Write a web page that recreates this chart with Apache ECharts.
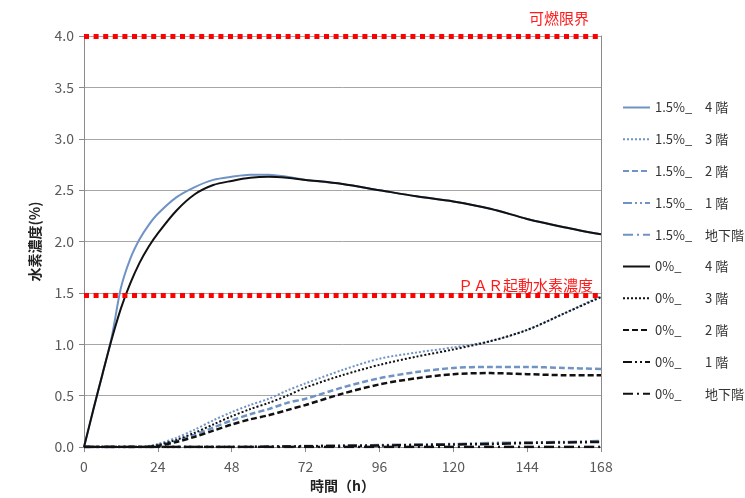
<!DOCTYPE html>
<html>
<head>
<meta charset="utf-8">
<script src="https://cdn.jsdelivr.net/npm/echarts@6/dist/echarts.min.js"></script>
<style>html,body{margin:0;padding:0;background:#fff;}#chart{width:745px;height:498px;}</style>
</head>
<body>
<div id="chart"></div>
<script>
// ---- data ----
const hours = [0,3,6,9,12,15,18,21,24,30,36,42,48,54,60,66,72,84,96,108,120,132,144,156,168];
const xTicks = [0,24,48,72,96,120,144,168];
const yTicks = [0,0.5,1,1.5,2,2.5,3,3.5,4];

const h15_4F = [0,0.36,0.71,1.07,1.55,1.83,2.02,2.16,2.27,2.43,2.53,2.60,2.63,2.65,2.65,2.63,2.60,2.56,2.50,2.44,2.39,2.32,2.22,2.14,2.07];
const h15_3F = [0,0,0,0,0,0,0,0.01,0.03,0.09,0.17,0.26,0.34,0.41,0.47,0.55,0.62,0.75,0.86,0.92,0.97,1.03,1.14,1.30,1.47];
const h15_2F = [0,0,0,0,0,0,0,0.005,0.02,0.06,0.12,0.19,0.26,0.32,0.37,0.43,0.47,0.58,0.67,0.73,0.77,0.78,0.78,0.77,0.76];
const h15_1F = [0,0,0,0,0,0,0,0,0,0,0,0,0,0.003,0.005,0.008,0.01,0.015,0.02,0.025,0.03,0.04,0.045,0.05,0.06];
const h15_B1 = [0,0,0,0,0,0,0,0,0,0,0,0,0,0,0,0,0,0,0,0,0,0,0,0,0];

const h0_4F = [0,0.36,0.71,1.05,1.35,1.59,1.79,1.95,2.08,2.30,2.46,2.55,2.59,2.62,2.63,2.62,2.60,2.56,2.50,2.44,2.39,2.32,2.22,2.14,2.07];
const h0_3F = [0,0,0,0,0,0,0,0.005,0.02,0.07,0.14,0.22,0.30,0.37,0.43,0.50,0.58,0.70,0.80,0.88,0.95,1.03,1.14,1.30,1.46];
const h0_2F = [0,0,0,0,0,0,0,0,0.01,0.05,0.10,0.16,0.22,0.27,0.31,0.36,0.41,0.52,0.61,0.67,0.71,0.72,0.71,0.70,0.70];
const h0_1F = [0,0,0,0,0,0,0,0,0,0,0,0,0,0.002,0.004,0.006,0.008,0.012,0.015,0.02,0.025,0.03,0.04,0.045,0.05];
const h0_B1 = [0,0,0,0,0,0,0,0,0,0,0,0,0,0,0,0,0,0,0,0,0,0,0,0,0];

const FLAMMABLE_LIMIT = 4.0;
const PAR_LEVEL = 1.48;
const flammableLabel = '可燃限界';
const parLabel = 'ＰＡＲ起動水素濃度';

const seriesNames = ['1.5%_4 階','1.5%_3 階','1.5%_2 階','1.5%_1 階','1.5%_地下階','0%_4 階','0%_3 階','0%_2 階','0%_1 階','0%_地下階'];
const seriesValues = [h15_4F,h15_3F,h15_2F,h15_1F,h15_B1,h0_4F,h0_3F,h0_2F,h0_1F,h0_B1];

// ---- styles ----
const BLUE = '#6f93c4';
const BLACK = '#111111';
const dashTypes = ['solid',[2,2],[6,3],[9,3,2,3,2,3],[10,4,2,4]];
const widths = [2,2,2.5,2.5,2.5];
const FONT = '"Noto Sans CJK JP", "Noto Sans", sans-serif';

const series = seriesNames.map((name, i) => {
  const isBlue = i < 5;
  const k = i % 5;
  return {
    name: name,
    type: 'line',
    data: hours.map((t, j) => [t, seriesValues[i][j]]),
    symbol: 'none',
    showSymbol: false,
    smooth: 0.3,
    lineStyle: { color: isBlue ? BLUE : BLACK, width: widths[k], type: dashTypes[k], cap: 'butt' },
    itemStyle: { color: isBlue ? BLUE : BLACK },
    z: isBlue ? 2 : 3
  };
});

series.push({
  name: 'limits',
  type: 'line',
  data: [],
  silent: true,
  z: 5,
  markLine: {
    symbol: 'none',
    silent: true,
    animation: false,
    lineStyle: { color: '#ff0000', width: 5, type: [5, 4.6], cap: 'butt' },
    data: [
      { yAxis: FLAMMABLE_LIMIT, label: { show: true, formatter: flammableLabel, position: 'insideEndTop', distance: [12, 10], color: '#ff1a1a', fontSize: 15, fontFamily: FONT } },
      { yAxis: PAR_LEVEL, label: { show: true, formatter: parLabel, position: 'insideEndTop', distance: [8, 2], color: '#ff1a1a', fontSize: 15, fontFamily: FONT } }
    ]
  }
});

const chart = echarts.init(document.getElementById('chart'), null, { renderer: 'canvas' });
chart.setOption({
  animation: false,
  backgroundColor: '#ffffff',
  textStyle: { fontFamily: FONT },
  grid: { left: 84, right: 144, top: 36, bottom: 43, containLabel: false },
  legend: {
    data: seriesNames,
    orient: 'vertical',
    left: 617,
    top: 96,
    itemWidth: 27,
    itemHeight: 14,
    itemGap: 18.8,
    itemStyle: { opacity: 0 },
    textStyle: {
      color: '#333333', fontSize: 13, fontFamily: FONT,
      rich: {
        a: { width: 50, fontSize: 13, color: '#333333', fontFamily: FONT },
        b: { fontSize: 13, color: '#333333', fontFamily: FONT }
      }
    },
    formatter: function (name) {
      const parts = name.split('_');
      return '{a|' + parts[0] + '_}{b|' + parts[1] + '}';
    }
  },
  xAxis: {
    type: 'value',
    min: xTicks[0],
    max: xTicks[xTicks.length - 1],
    interval: 24,
    name: '時間（h）',
    nameLocation: 'middle',
    nameGap: 27,
    nameTextStyle: { color: '#222', fontSize: 14, fontWeight: 'bold', fontFamily: FONT },
    axisLine: { show: true, lineStyle: { color: '#8a8a8a', width: 1 } },
    axisTick: { show: true, length: 5, lineStyle: { color: '#8a8a8a' } },
    axisLabel: { color: '#595959', fontSize: 14, margin: 13, fontFamily: FONT },
    splitLine: { show: false }
  },
  yAxis: [{
    type: 'value',
    min: yTicks[0],
    max: yTicks[yTicks.length - 1],
    interval: 0.5,
    name: '水素濃度(%)',
    nameLocation: 'middle',
    nameGap: 42,
    nameRotate: 90,
    nameTextStyle: { color: '#222', fontSize: 14, fontWeight: 'bold', fontFamily: FONT },
    axisLine: { show: true, lineStyle: { color: '#8a8a8a', width: 1 } },
    axisTick: { show: true, length: 5, lineStyle: { color: '#8a8a8a' } },
    axisLabel: { color: '#595959', fontSize: 14, margin: 10, fontFamily: FONT, formatter: v => v.toFixed(1) },
    splitLine: { show: true, lineStyle: { color: '#a6a6a6', width: 1 } }
  }, {
    type: 'value',
    position: 'right',
    min: yTicks[0],
    max: yTicks[yTicks.length - 1],
    interval: 0.5,
    axisLine: { show: true, lineStyle: { color: '#8a8a8a', width: 1 } },
    axisTick: { show: false },
    axisLabel: { show: false },
    splitLine: { show: false }
  }],
  series: series
});
</script>
</body>
</html>
